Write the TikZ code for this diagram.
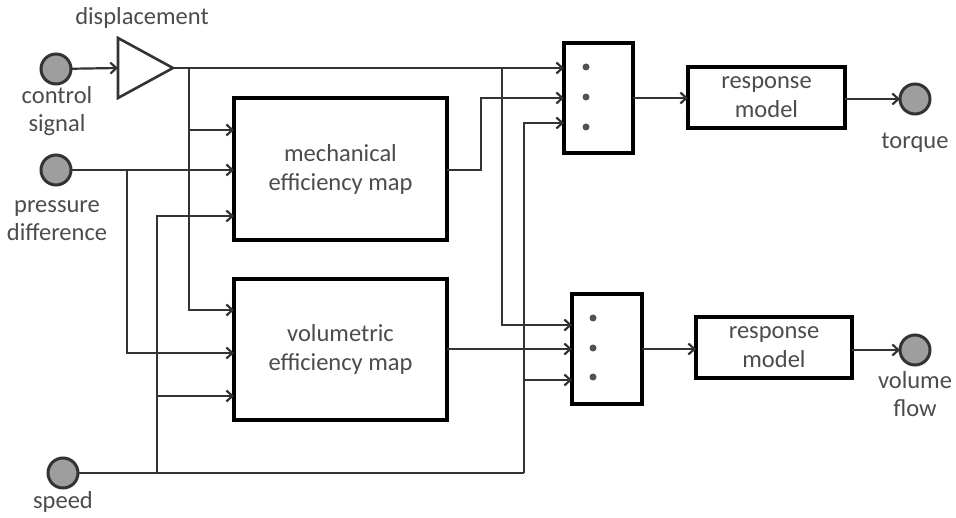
\documentclass[tikz,border=0pt]{standalone}
\usepackage{fontspec}
\setmainfont{Carlito}
\usetikzlibrary{arrows.meta,calc}
\definecolor{txt}{HTML}{4C4C4C}
\definecolor{ln}{HTML}{333333}
\definecolor{sigfill}{HTML}{9E9E9E}
\begin{document}
\begin{tikzpicture}[x=1pt,y=-1pt,
  conn/.style={draw=ln,line width=2.2pt},
  arr/.style={conn,-{Straight Barb[length=6pt,width=11pt]}},
  blk/.style={draw=black,line width=3.4pt,fill=white,inner sep=0pt,outer sep=0pt,
    font=\fontsize{24.5}{29}\selectfont,text=txt,align=center},
  sigc/.style={circle,draw=ln,fill=sigfill,line width=3pt,minimum size=30pt,inner sep=0pt,outer sep=0pt},
  lbl/.style={text=txt,font=\fontsize{24.5}{28}\selectfont,align=center,inner sep=0pt},
  mdot/.style={circle,fill=ln!85,minimum size=7pt,inner sep=0pt}]
\useasboundingbox (0,0) rectangle (956,518);

% inputs
\node[sigc] (cs) at (56,69) {};
\node[sigc] (pd) at (56,170) {};
\node[sigc] (sp) at (63,473) {};
\node[lbl] (cslbl) at (57,111) {control\\signal};
\node[lbl] (pdlbl) at (57,221) {pressure\\difference};
\node[lbl] (splbl) at (63,502) {speed};

% amplifier
\draw[line width=2.6pt,draw=ln] (118,38) -- (173,68) -- (118,98) -- cycle;
\coordinate (ampin) at (118,68);
\coordinate (ampout) at (173,68);
\node[lbl] (displbl) at (142,18) {displacement};

% blocks
\node[blk,minimum width=213pt,minimum height=142pt] (mech) at (340.5,169) {mechanical\\efficiency map};
\node[blk,minimum width=213pt,minimum height=141pt] (vol) at (340.5,349.5) {volumetric\\efficiency map};
\node[blk,minimum width=69pt,minimum height=110pt] (mux1) at (598.5,98) {};
\node[blk,minimum width=70pt,minimum height=110pt] (mux2) at (607,349) {};
\node[blk,minimum width=157pt,minimum height=61pt] (rm1) at (766.5,97.5) {response\\model};
\node[blk,minimum width=156pt,minimum height=61pt] (rm2) at (774,347.5) {response\\model};

% mux dots
\node[mdot] (d1) at (586,67) {};
\node[mdot] (d2) at (586,97) {};
\node[mdot] (d3) at (586,127) {};
\node[mdot] (d4) at (593,318) {};
\node[mdot] (d5) at (593,348) {};
\node[mdot] (d6) at (593,377) {};

% outputs
\node[sigc] (tq) at (915,99) {};
\node[sigc] (vf) at (915,350) {};
\node[lbl] (tqlbl) at (915,143) {torque};
\node[lbl] (vflbl) at (915,394) {volume\\flow};

% junctions
\coordinate (j1) at (189,68);
\coordinate (j2) at (502,68);
\coordinate (j3) at (127,170);
\coordinate (j4) at (157,473);
\coordinate (j5) at (524,473);

% connectors
\draw[arr] (cs) -- (ampin);
\draw[arr] (ampout) -- (mux1.west |- 0,68);
\draw[arr] (j1) |- (mech.west |- 0,130);
\draw[arr] (j1) |- (vol.west |- 0,310);
\draw[arr] (j2) |- (mux2.west |- 0,325);
\draw[arr] (pd) -- (mech.west |- 0,170);
\draw[arr] (j3) |- (vol.west |- 0,353);
\draw[conn] (sp) -- (j5);
\draw[arr] (j4) |- (mech.west |- 0,216);
\draw[arr] (j4) |- (vol.west |- 0,396);
\draw[arr] (j5) |- (mux1.west |- 0,123);
\draw[arr] (j5) |- (mux2.west |- 0,380);
\draw[arr] (mech.east |- 0,170) -- (481,170) -- (481,98) -- (mux1.west |- 0,98);
\draw[arr] (vol.east |- 0,349) -- (mux2.west |- 0,349);
\draw[arr] (mux1.east) -- (mux1.east -| rm1.west);
\draw[arr] (mux2.east) -- (mux2.east -| rm2.west);
\draw[arr] (rm1.east |- tq) -- (tq);
\draw[arr] (rm2.east |- vf) -- (vf);
\end{tikzpicture}
\end{document}
